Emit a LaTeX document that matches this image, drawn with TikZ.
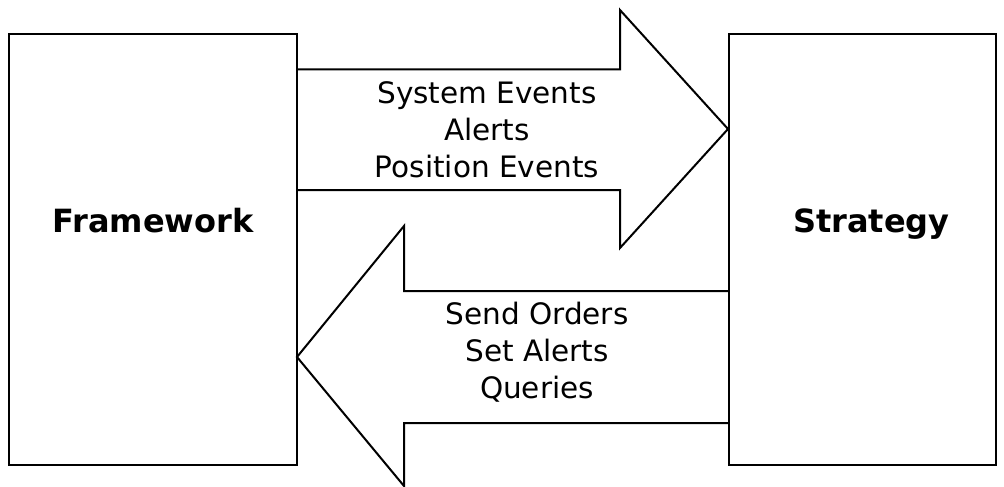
\documentclass[tikz,border=0pt]{standalone}
\usepackage{fontspec}
\setmainfont{DejaVu Sans}
\begin{document}
\begin{tikzpicture}[x=1pt,y=-1pt,
  box/.style={draw, line width=2pt, minimum width=288pt, minimum height=431pt, inner sep=0pt},
  title/.style={anchor=base, inner sep=0pt, font=\fontsize{32}{36}\selectfont\bfseries},
  bigarrow/.style={draw, line width=2pt, line join=miter},
  lbl/.style={align=center, inner sep=0pt, font=\fontsize{29.5}{37}\selectfont}]
\useasboundingbox (0,0) rectangle (1004,487);
\draw[bigarrow] (297,69.5) -- (620,69.5) -- (620,10) -- (728,129) -- (620,248) -- (620,190) -- (297,190);
\draw[bigarrow] (729,291) -- (404,291) -- (404,226) -- (297,357) -- (404,486) -- (404,423) -- (729,423);
\node[box] (fw) at (153,249.5) {};
\node[box, minimum width=267pt] (st) at (862.5,249.5) {};
\node[title] (fwt) at (153,232) {Framework};
\node[title] (stt) at (871.5,232) {Strategy};
\node[lbl] (up) at (487,130) {System Events\\Alerts\\Position Events};
\node[lbl] (down) at (537,352) {Send Orders\\Set Alerts\\Queries};
\end{tikzpicture}
\end{document}
